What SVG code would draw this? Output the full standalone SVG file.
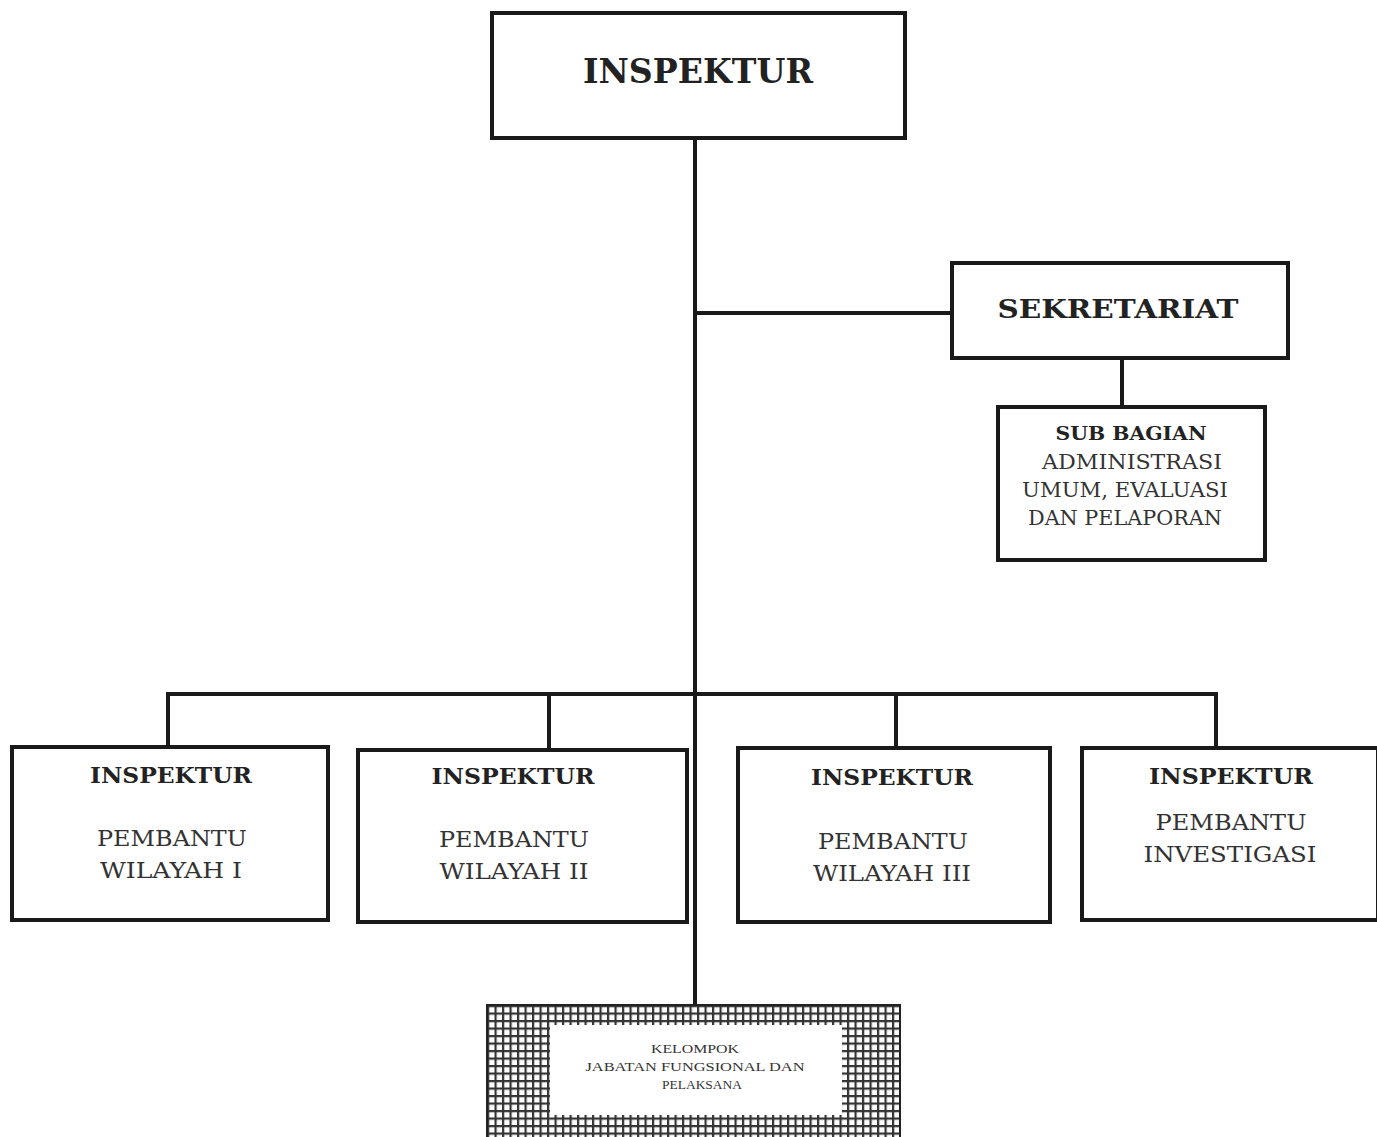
<svg xmlns="http://www.w3.org/2000/svg" width="1377" height="1137" viewBox="0 0 1377 1137">
<style>
.box{fill:#fff;stroke:#1a1a1a;stroke-width:4}
.ln{stroke:#1a1a1a;stroke-width:4;fill:none}
.b{font-family:"DejaVu Serif",serif;font-weight:bold;fill:#222;text-anchor:middle}
.r{font-family:"DejaVu Serif",serif;fill:#333;text-anchor:middle}
.s{font-family:"Liberation Serif",serif;fill:#333;text-anchor:middle;font-size:12px}
</style>
<defs>
<pattern id="grid" x="487" y="1005" width="7.5" height="7.5" patternUnits="userSpaceOnUse">
<rect width="7.5" height="7.5" fill="#fff"/>
<rect x="0" y="0" width="2.2" height="7.5" fill="#333"/>
<rect x="0" y="0" width="7.5" height="2.2" fill="#333"/>
</pattern>
</defs>
<rect width="1377" height="1137" fill="#fff"/>
<g id="connectors">
<line class="ln" x1="695" y1="139" x2="695" y2="1005"/>
<line class="ln" x1="695" y1="313" x2="952" y2="313"/>
<line class="ln" x1="1122" y1="358" x2="1122" y2="407"/>
<polyline class="ln" points="168,746 168,694 1216,694 1216,748"/>
<line class="ln" x1="549" y1="694" x2="549" y2="750"/>
<line class="ln" x1="896" y1="694" x2="896" y2="748"/>
</g>
<g id="inspektur">
<rect class="box" x="492" y="13" width="413" height="125"/>
<text class="b" x="698" y="83" font-size="33" textLength="230" lengthAdjust="spacingAndGlyphs">INSPEKTUR</text>
</g>
<g id="sekretariat">
<rect class="box" x="952" y="263" width="336" height="95"/>
<text class="b" x="1118" y="318" font-size="26" textLength="241" lengthAdjust="spacingAndGlyphs">SEKRETARIAT</text>
</g>
<g id="subbagian">
<rect class="box" x="998" y="407" width="267" height="153"/>
<text class="b" x="1131" y="440" font-size="19" textLength="151" lengthAdjust="spacingAndGlyphs">SUB BAGIAN</text>
<text class="r" x="1132" y="469" font-size="20" textLength="180" lengthAdjust="spacingAndGlyphs">ADMINISTRASI</text>
<text class="r" x="1125" y="497" font-size="20" textLength="206" lengthAdjust="spacingAndGlyphs">UMUM, EVALUASI</text>
<text class="r" x="1125" y="525" font-size="20" textLength="194" lengthAdjust="spacingAndGlyphs">DAN PELAPORAN</text>
</g>
<g id="wilayah1">
<rect class="box" x="12" y="747" width="316" height="173"/>
<text class="b" x="171" y="783" font-size="22" textLength="162" lengthAdjust="spacingAndGlyphs">INSPEKTUR</text>
<text class="r" x="172" y="846" font-size="23" textLength="150" lengthAdjust="spacingAndGlyphs">PEMBANTU</text>
<text class="r" x="171" y="878" font-size="23" textLength="142" lengthAdjust="spacingAndGlyphs">WILAYAH I</text>
</g>
<g id="wilayah2">
<rect class="box" x="358" y="750" width="329" height="172"/>
<text class="b" x="513" y="784" font-size="22" textLength="163" lengthAdjust="spacingAndGlyphs">INSPEKTUR</text>
<text class="r" x="514" y="847" font-size="23" textLength="150" lengthAdjust="spacingAndGlyphs">PEMBANTU</text>
<text class="r" x="514" y="879" font-size="23" textLength="149" lengthAdjust="spacingAndGlyphs">WILAYAH II</text>
</g>
<g id="wilayah3">
<rect class="box" x="738" y="748" width="312" height="174"/>
<text class="b" x="892" y="785" font-size="22" textLength="162" lengthAdjust="spacingAndGlyphs">INSPEKTUR</text>
<text class="r" x="893" y="849" font-size="23" textLength="150" lengthAdjust="spacingAndGlyphs">PEMBANTU</text>
<text class="r" x="892" y="881" font-size="23" textLength="158" lengthAdjust="spacingAndGlyphs">WILAYAH III</text>
</g>
<g id="investigasi">
<rect class="box" x="1082" y="748" width="296" height="172"/>
<text class="b" x="1231" y="784" font-size="22" textLength="164" lengthAdjust="spacingAndGlyphs">INSPEKTUR</text>
<text class="r" x="1231" y="830" font-size="23" textLength="151" lengthAdjust="spacingAndGlyphs">PEMBANTU</text>
<text class="r" x="1230" y="862" font-size="23" textLength="173" lengthAdjust="spacingAndGlyphs">INVESTIGASI</text>
</g>
<g id="kelompok">
<rect x="487" y="1005" width="413" height="140" fill="url(#grid)" stroke="#222" stroke-width="2"/>
<rect x="550" y="1025" width="292" height="90" fill="#fff"/>
<text class="s" x="695" y="1053" textLength="88" lengthAdjust="spacingAndGlyphs">KELOMPOK</text>
<text class="s" x="695" y="1071" textLength="219" lengthAdjust="spacingAndGlyphs">JABATAN FUNGSIONAL DAN</text>
<text class="s" x="702" y="1089" textLength="80" lengthAdjust="spacingAndGlyphs">PELAKSANA</text>
</g>
</svg>
